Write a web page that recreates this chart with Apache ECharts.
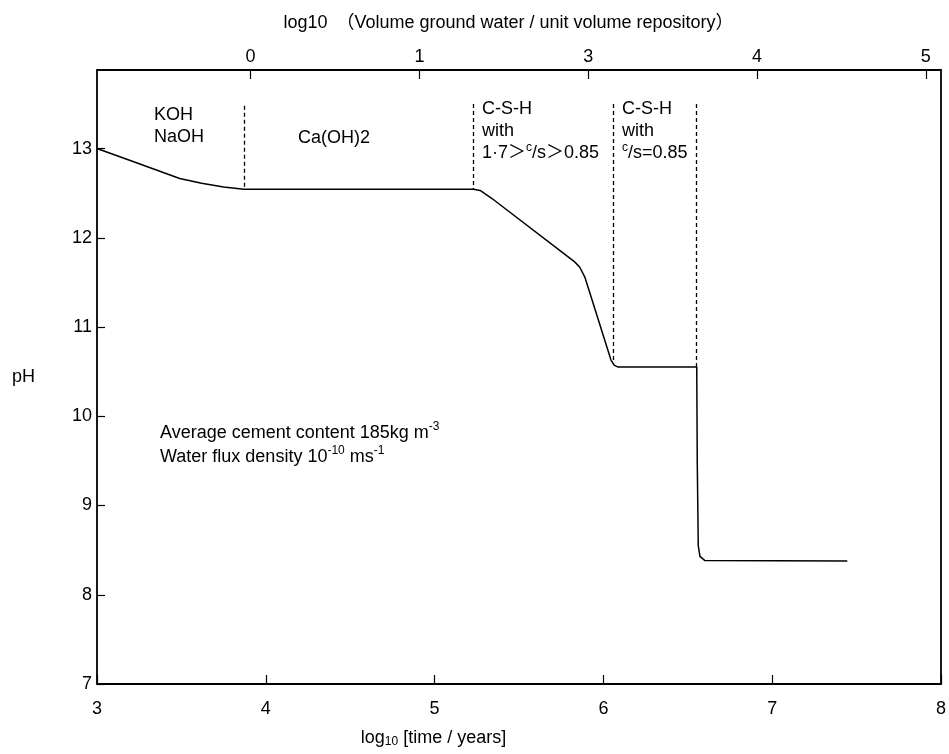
<!DOCTYPE html>
<html>
<head>
<meta charset="utf-8">
<title>pH vs time</title>
<script src="https://cdn.jsdelivr.net/npm/echarts@6/dist/echarts.min.js"></script>
<style>
  html, body { margin: 0; padding: 0; background: #fff; }
  #chart { width: 949px; height: 754px; }
</style>
</head>
<body>
<div id="chart"></div>
<script>
// curve: log10 time (years) -> pH
var logTime = [3.00, 3.25, 3.49, 3.62, 3.75, 3.87, 5.23, 5.27, 5.34, 5.83, 5.86, 5.89, 6.045, 6.065, 6.085, 6.553, 6.556, 6.562, 6.572, 6.60, 7.445];
var pHValues = [13.00, 12.83, 12.665, 12.61, 12.57, 12.545, 12.545, 12.53, 12.44, 11.73, 11.67, 11.56, 10.63, 10.57, 10.553, 10.553, 9.50, 8.55, 8.43, 8.385, 8.378];

// dashed stage boundaries
var stageX = [3.874, 5.231, 6.058, 6.549];
var stageTop = [13.48, 13.5, 13.5, 13.5];
var stageBottom = [12.545, 12.545, 10.58, 10.553];

// axis ticks
var yTicks = [7, 8, 9, 10, 11, 12, 13];
var topTickValues = [0, 1, 2, 3, 4];
var topTickLabels = ['0', '1', '3', '4', '5'];

var FONT = '"Liberation Sans", Arial, "Noto Sans CJK JP", sans-serif';
var INK = '#000';
var FS = 18;

var chart = echarts.init(document.getElementById('chart'));

var curve = logTime.map(function (x, i) { return [x, pHValues[i]]; });
var bounds = stageX.map(function (x, i) {
  return [{ coord: [x, stageTop[i]] }, { coord: [x, stageBottom[i]] }];
});

var supRich = {
  sup: { fontSize: 12, lineHeight: 12, verticalAlign: 'top', fontFamily: FONT, fill: INK }
};

function label(left, top, text, lineHeight) {
  return {
    type: 'text',
    left: left,
    top: top,
    silent: true,
    style: {
      text: text,
      fontFamily: FONT,
      fontSize: FS,
      lineHeight: lineHeight || 22,
      fill: INK,
      rich: supRich
    }
  };
}

chart.setOption({
  animation: false,
  backgroundColor: '#fff',
  grid: {
    left: 97, right: 7, top: 70, bottom: 70,
    show: true, borderColor: INK, borderWidth: 1.8
  },
  xAxis: [
    {
      type: 'value',
      position: 'bottom',
      min: 3, max: 8, interval: 1,
      name: '{a|log}{sub|10}{a| [time / years]}',
      nameLocation: 'middle',
      nameGap: 44,
      nameTextStyle: {
        padding: [0, 171, 0, 0],
        rich: {
          a: { fontSize: FS, fontFamily: FONT, color: INK, lineHeight: 20 },
          sub: { fontSize: 12, fontFamily: FONT, color: INK, lineHeight: 12, verticalAlign: 'bottom' }
        }
      },
      axisLine: { show: false, onZero: false },
      axisTick: { inside: true, length: 9, lineStyle: { color: INK, width: 1.2 } },
      axisLabel: { margin: 16, fontSize: FS, fontFamily: FONT, color: INK },
      splitLine: { show: false }
    },
    {
      type: 'value',
      position: 'top',
      min: -0.91, max: 4.09,
      name: 'log10\u3000\uFF08Volume ground water / unit volume repository\uFF09',
      nameLocation: 'middle',
      nameGap: 38,
      nameTextStyle: { fontSize: FS, fontFamily: FONT, color: INK, padding: [0, 21, 0, 0] },
      axisLine: { show: false, onZero: false },
      axisTick: {
        inside: true, length: 9, customValues: topTickValues,
        lineStyle: { color: INK, width: 1.2 }
      },
      axisLabel: {
        margin: 4, fontSize: FS, fontFamily: FONT, color: INK,
        customValues: topTickValues,
        formatter: function (v) {
          var i = topTickValues.indexOf(Math.round(v));
          return i >= 0 ? topTickLabels[i] : '';
        }
      },
      splitLine: { show: false }
    }
  ],
  yAxis: {
    type: 'value',
    min: 7, max: 13.88,
    name: 'pH',
    nameLocation: 'middle',
    nameRotate: 0,
    nameGap: 62,
    nameTextStyle: { fontSize: FS, fontFamily: FONT, color: INK, padding: [0, 0, 22, 0] },
    axisLine: { show: false, onZero: false },
    axisTick: {
      inside: true, length: 8, customValues: yTicks,
      lineStyle: { color: INK, width: 1.2 }
    },
    axisLabel: {
      margin: 5, fontSize: FS, fontFamily: FONT, color: INK,
      customValues: yTicks
    },
    splitLine: { show: false }
  },
  series: [
    {
      type: 'line',
      data: curve,
      showSymbol: false,
      smooth: false,
      lineStyle: { color: INK, width: 1.5 },
      silent: true,
      markLine: {
        silent: true,
        symbol: ['none', 'none'],
        label: { show: false },
        lineStyle: { color: INK, width: 1.3, type: [4, 3] },
        data: bounds
      }
    }
  ],
  graphic: [
    label(154, 104, 'KOH\nNaOH'),
    label(298, 127, 'Ca(OH)2'),
    label(482, 98, 'C-S-H\nwith\n1\u00B77\uFF1E{sup|c}/s\uFF1E0.85'),
    label(622, 98, 'C-S-H\nwith\n{sup|c}/s=0.85'),
    label(160, 421, 'Average cement content 185kg m{sup|-3}\nWater flux density 10{sup|-10} ms{sup|-1}', 24)
  ]
});
</script>
</body>
</html>
